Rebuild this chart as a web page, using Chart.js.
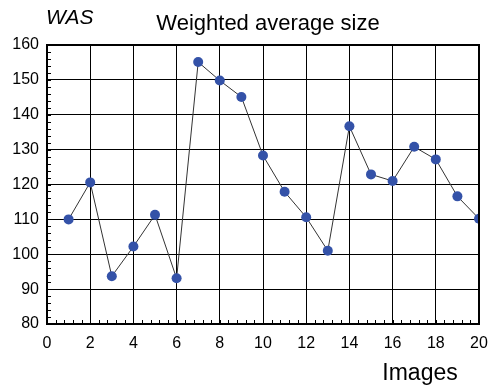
<!DOCTYPE html>
<html>
<head>
<meta charset="utf-8">
<script src="https://cdn.jsdelivr.net/npm/chart.js@4/dist/chart.umd.min.js"></script>
<style>
html,body{margin:0;padding:0;background:#fff;}
#wrap{width:489px;height:385px;position:relative;}
</style>
</head>
<body>
<div id="wrap"><canvas id="c" width="489" height="385"></canvas></div>
<script>
const images = [1,2,3,4,5,6,7,8,9,10,11,12,13,14,15,16,17,18,19,20];
const was = [110.0,120.6,93.7,102.2,111.3,93.1,155.1,149.8,145.1,128.3,117.9,110.6,101.0,136.7,122.9,121.0,130.8,127.2,116.6,110.2];
const xTicks = [0,2,4,6,8,10,12,14,16,18,20];
const yTicks = [80,90,100,110,120,130,140,150,160];
const chartTitle = 'Weighted average size';
const yLabel = 'WAS';
const xLabel = 'Images';

const FONT = '"Liberation Sans", Arial, Helvetica, sans-serif';

const decor = {
  id: 'decor',
  afterDraw(chart) {
    const ctx = chart.ctx, a = chart.chartArea;
    const xs = chart.scales.x, ys = chart.scales.y;
    ctx.save();
    // minor ticks
    ctx.strokeStyle = '#000'; ctx.lineWidth = 1;
    ctx.beginPath();
    for (let v = 0; v <= 20.001; v += 0.4) {
      const px = Math.round(xs.getPixelForValue(v)) + 0.5;
      ctx.moveTo(px, a.bottom); ctx.lineTo(px, a.bottom - 4);
    }
    for (let v = 80; v <= 160; v += 2) {
      const py = Math.round(ys.getPixelForValue(v)) + 0.5;
      ctx.moveTo(a.left, py); ctx.lineTo(a.left + 4, py);
    }
    ctx.stroke();
    // border
    ctx.lineWidth = 2;
    ctx.strokeRect(a.left, a.top, a.right - a.left, a.bottom - a.top);
    // texts
    ctx.fillStyle = '#000';
    ctx.textBaseline = 'alphabetic';
    ctx.font = '22px ' + FONT;
    ctx.textAlign = 'center';
    ctx.fillText(chartTitle, (a.left + a.right) / 2 + 5, 30);
    ctx.font = 'italic 21px ' + FONT;
    ctx.textAlign = 'left';
    ctx.fillText(yLabel, 46, 24);
    ctx.font = '23px ' + FONT;
    ctx.textAlign = 'center';
    ctx.fillText(xLabel, 420, 380);
    ctx.restore();
  }
};

new Chart(document.getElementById('c'), {
  type: 'line',
  data: {
    datasets: [{
      data: images.map((x, i) => ({x: x, y: was[i]})),
      borderColor: '#333',
      borderWidth: 1,
      backgroundColor: '#3452a8',
      pointBackgroundColor: '#3452a8',
      pointBorderColor: '#3452a8',
      pointBorderWidth: 0,
      pointRadius: 5,
      tension: 0,
      fill: false
    }]
  },
  options: {
    responsive: false,
    animation: false,
    devicePixelRatio: 1,
    layout: {padding: {top: 45, right: 10, left: 0, bottom: 0}},
    plugins: {legend: {display: false}, tooltip: {enabled: false}, title: {display: false}},
    scales: {
      x: {
        type: 'linear', min: 0, max: 20,
        afterBuildTicks(s) { s.ticks = xTicks.map(v => ({value: v})); },
        afterFit(s) { s.height = 61; s.paddingRight = 0; s.paddingLeft = 0; },
        grid: {color: '#000', lineWidth: 1, drawTicks: false},
        border: {display: false},
        ticks: {color: '#000', font: {family: FONT, size: 16}, padding: 10, maxRotation: 0}
      },
      y: {
        type: 'linear', min: 80, max: 160,
        afterBuildTicks(s) { s.ticks = yTicks.map(v => ({value: v})); },
        afterFit(s) { s.width = 47; s.paddingTop = 0; s.paddingBottom = 0; },
        grid: {color: '#000', lineWidth: 1, drawTicks: false},
        border: {display: false},
        ticks: {color: '#000', font: {family: FONT, size: 16}, padding: 8}
      }
    }
  },
  plugins: [decor]
});
</script>
</body>
</html>
